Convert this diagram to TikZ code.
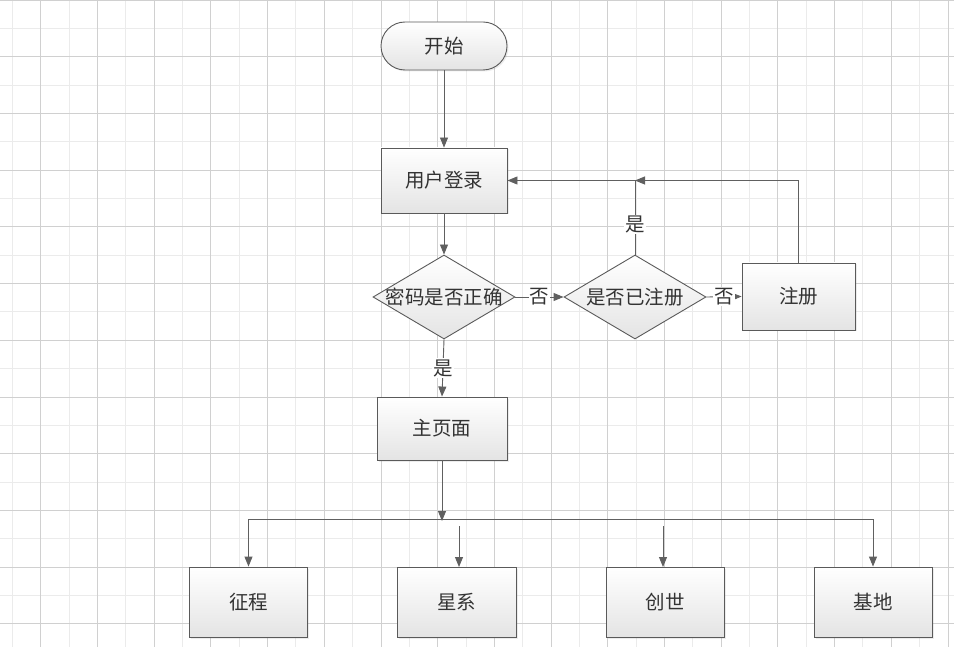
\documentclass[tikz,border=0pt]{standalone}
\usepackage{fontspec}
\setmainfont{Noto Sans CJK SC}
\usetikzlibrary{arrows.meta,shapes.geometric,shadows}
\definecolor{linegray}{HTML}{606060}
\definecolor{boxline}{HTML}{5A5A5A}
\definecolor{boxfill}{HTML}{E4E4E4}
\definecolor{textgray}{HTML}{333333}
\definecolor{gridmajor}{HTML}{D0D0D0}
\definecolor{gridminor}{HTML}{EBEBEB}
\begin{document}
\begin{tikzpicture}[x=1pt,y=-1pt,
  font=\fontsize{19.5}{22}\selectfont, text=textgray,
  box/.style={draw=boxline, line width=0.9pt, top color=white, bottom color=boxfill,
    minimum width=118pt, minimum height=70pt, inner sep=0pt,
    drop shadow={opacity=0.15, shadow xshift=1.5pt, shadow yshift=-1.5pt}},
  terminal/.style={box, rounded corners=24pt, minimum width=126pt, minimum height=48pt},
  decision/.style={diamond, draw=boxline, line width=0.9pt, top color=white, bottom color=boxfill,
    minimum width=142pt, minimum height=84pt, inner sep=0pt, aspect=1.7},
  link/.style={draw=linegray, line width=0.9pt, -{Triangle[length=10pt,width=8pt]}},
  plain/.style={draw=linegray, line width=0.9pt},
  tag/.style={fill=white, inner sep=1pt}]
  \useasboundingbox (0,0) rectangle (954,647);
  \fill[white] (0,0) rectangle (954,647);
  % grid
  \foreach \i in {0,...,33} {
    \draw[gridminor, line width=0.8pt] ({12.35+28.35*\i},0) -- ++(0,647);
  }
  \foreach \i in {0,...,22} {
    \draw[gridminor, line width=0.8pt] (0,{28.35+56.7*\i}) -- ++(954,0);
  }
  \foreach \i in {0,...,16} {
    \draw[gridmajor, line width=0.8pt] ({40.7+56.7*\i},0) -- ++(0,647);
  }
  \foreach \i in {0,...,11} {
    \draw[gridmajor, line width=0.8pt] (0,{56.7*\i}) -- ++(954,0);
  }
  % nodes
  \node[terminal] (start) at (444,46) {开始};
  \node[box, minimum width=126pt, minimum height=65pt] (login) at (444,180.5) {用户登录};
  \node[decision, label={center:密码是否正确}] (checkpwd) at (444,297) {};
  \node[decision, label={center:是否已注册}] (checkreg) at (635,297) {};
  \node[box, minimum width=113pt, minimum height=67pt] (register) at (798.5,296.5) {注册};
  \node[box, minimum width=130pt, minimum height=63pt] (home) at (442,428.5) {主页面};
  \node[box] (expedition) at (248.5,602) {征程};
  \node[box, minimum width=119pt] (galaxy) at (456.5,602) {星系};
  \node[box] (genesis) at (665,602) {创世};
  \node[box] (base) at (873,602) {基地};
  \coordinate (join) at (635,180.5);
  \coordinate (hub) at (442,519);
  % connectors
  \draw[link] (start) -- (login);
  \draw[link] (login) -- (checkpwd);
  \draw[link] (checkpwd.east) -- node[tag] {否} (checkreg.west);
  \draw[link] (checkreg.east) -- node[tag] {否} (register.west);
  \draw[link] (register.north) |- (join);
  \draw[link] (join) -- (login.east);
  \draw[plain] (checkreg.north) -- node[tag, pos=0.41] {是} (join);
  \draw[link] (checkpwd.south) -- node[tag, pos=0.5] {是} (home.north);
  \draw[link] (home.south) -- ([yshift=-2pt]hub);
  \draw[plain] (hub -| expedition) -- (hub -| base);
  \draw[link] (hub -| expedition) -- (expedition.north);
  \draw[link] ([yshift=-7pt]hub -| 459,0) -- (459,567);
  \draw[link] ([yshift=-7pt]hub -| 663,0) -- (663,567);
  \draw[link] (hub -| base) -- (base.north);
\end{tikzpicture}
\end{document}
